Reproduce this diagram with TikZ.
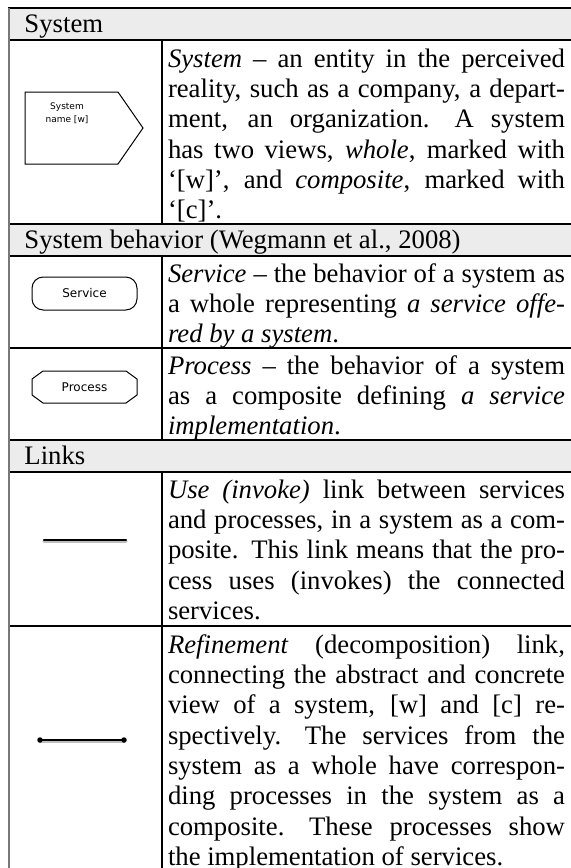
\documentclass[tikz,border=0pt]{standalone}
\usepackage{fontspec}
\setmainfont{Liberation Serif}
\newfontfamily\labfont{DejaVu Sans}
\newcommand{\myspaces}{\spaceskip=0.25em plus 0.6em minus 0.09em\xspaceskip=0.42em plus 0.8em minus 0.09em\relax}
\newcommand{\jl}[1]{\leavevmode\hbox to 158.8pt{\myspaces\strut #1}}
\newcommand{\lastl}[1]{\leavevmode\myspaces\strut #1}
\newcommand{\bodyfont}{\fontsize{10.68}{12.12}\selectfont}
\definecolor{hdrgray}{RGB}{236,236,236}
\definecolor{bordergray}{RGB}{120,120,120}
\begin{document}
\begin{tikzpicture}[x=0.4pt,y=-0.4pt,
  hdrfill/.style={fill=hdrgray,draw=none},
  rule/.style={line width=0.45pt,draw=black},
  hdrtext/.style={anchor=base west,inner sep=0pt,font=\bodyfont},
  bodytext/.style={anchor=north west,inner sep=0pt,outer sep=0pt,align=left,text width=158.8pt,font=\bodyfont},
  shapebox/.style={draw=black,line width=0.4pt,fill=white},
  smalllab/.style={inner sep=0pt,align=center,font=\labfont\fontsize{3.6}{5.2}\selectfont},
  midlab/.style={inner sep=0pt,font=\labfont\fontsize{4.8}{5.2}\selectfont},
  linkline/.style={line width=0.85pt,line cap=round},
  linkshadow/.style={line width=1.3pt,draw=black!25,line cap=round}
]
\useasboundingbox (0,0) rectangle (571,868);
\fill[white] (0,0) rectangle (571,868);
% header fills
\path[hdrfill] (8,8) rectangle (571,40);
\path[hdrfill] (8,224) rectangle (571,256);
\path[hdrfill] (8,440) rectangle (571,472);
% horizontal rules
\foreach \yy in {8,40,224,256,348,440,472,626} {\draw[rule] (8,\yy) -- (571,\yy);}
% column divider
\draw[rule] (162,40) -- (162,224);
\draw[rule] (162,256) -- (162,440);
\draw[rule] (162,472) -- (162,868);
% left border
\draw[line width=0.8pt,draw=bordergray] (8.5,8) -- (8.5,868);

% headers
\node[hdrtext] (h1) at (24,32) {System};
\node[hdrtext] (h2) at (24,248) {System behavior (Wegmann et al., 2008)};
\node[hdrtext] (h3) at (24,464) {Links};

% body texts
\node[bodytext] (t1) at (168,46) {%
\jl{\textit{System} -- an entity in the perceived}\\
\jl{reality, such as a company, a depart-}\\
\jl{ment, an organization.  A system}\\
\jl{has two views, \textit{whole}, marked with}\\
\jl{`[w]', and \textit{composite}, marked with}\\
\lastl{`[c]'.}};
\node[bodytext] (t2) at (168,261) {%
\jl{\textit{Service} -- the behavior of a system as}\\
\jl{a whole representing \textit{a service offe-}}\\
\lastl{\textit{red by a system}.}};
\node[bodytext] (t3) at (168,353) {%
\jl{\textit{Process} -- the behavior of a system}\\
\jl{as a composite defining \textit{a service}}\\
\lastl{\textit{implementation}.}};
\node[bodytext] (t4) at (168,477) {%
\jl{\textit{Use (invoke)} link between services}\\
\jl{and processes, in a system as a com-}\\
\jl{posite. This link means that the pro-}\\
\jl{cess uses (invokes) the connected}\\
\lastl{services.}};
\node[bodytext] (t5) at (168,632) {%
\jl{\textit{Refinement} (decomposition) link,}\\
\jl{connecting the abstract and concrete}\\
\jl{view of a system, [w] and [c] re-}\\
\jl{spectively.  The services from the}\\
\jl{system as a whole have correspon-}\\
\jl{ding processes in the system as a}\\
\jl{composite.  These processes show}\\
\lastl{the implementation of services.}};

% system shape
\draw[shapebox] (25,92) -- (118,92) -- (143,128) -- (118,164) -- (25,164) -- cycle;
\node[smalllab] (syslab) at (67,113) {System\\name [w]};

% service shape
\draw[shapebox,rounded corners=4.5pt] (32,277) rectangle (137,310);
\node[midlab] (servlab) at (84.5,293.5) {Service};

% process shape
\draw[shapebox] (43,371) -- (126,371) -- (137,379) -- (137,395) -- (126,403) -- (43,403) -- (32,395) -- (32,379) -- cycle;
\node[midlab] (proclab) at (84.5,387) {Process};

% use link
\coordinate (u1) at (44,540);
\coordinate (u2) at (126,540);
\draw[linkshadow] ([yshift=-0.7pt]u1) -- ([yshift=-0.7pt]u2);
\draw[linkline] (u1) -- (u2);

% refinement link
\coordinate (r1) at (40,740);
\coordinate (r2) at (124,740);
\draw[linkshadow] ([yshift=-0.7pt]r1) -- ([yshift=-0.7pt]r2);
\draw[linkline,line width=0.65pt] (r1) -- (r2);
\fill (r1) circle (1.1pt);
\fill (r2) circle (1.1pt);
\end{tikzpicture}
\end{document}
